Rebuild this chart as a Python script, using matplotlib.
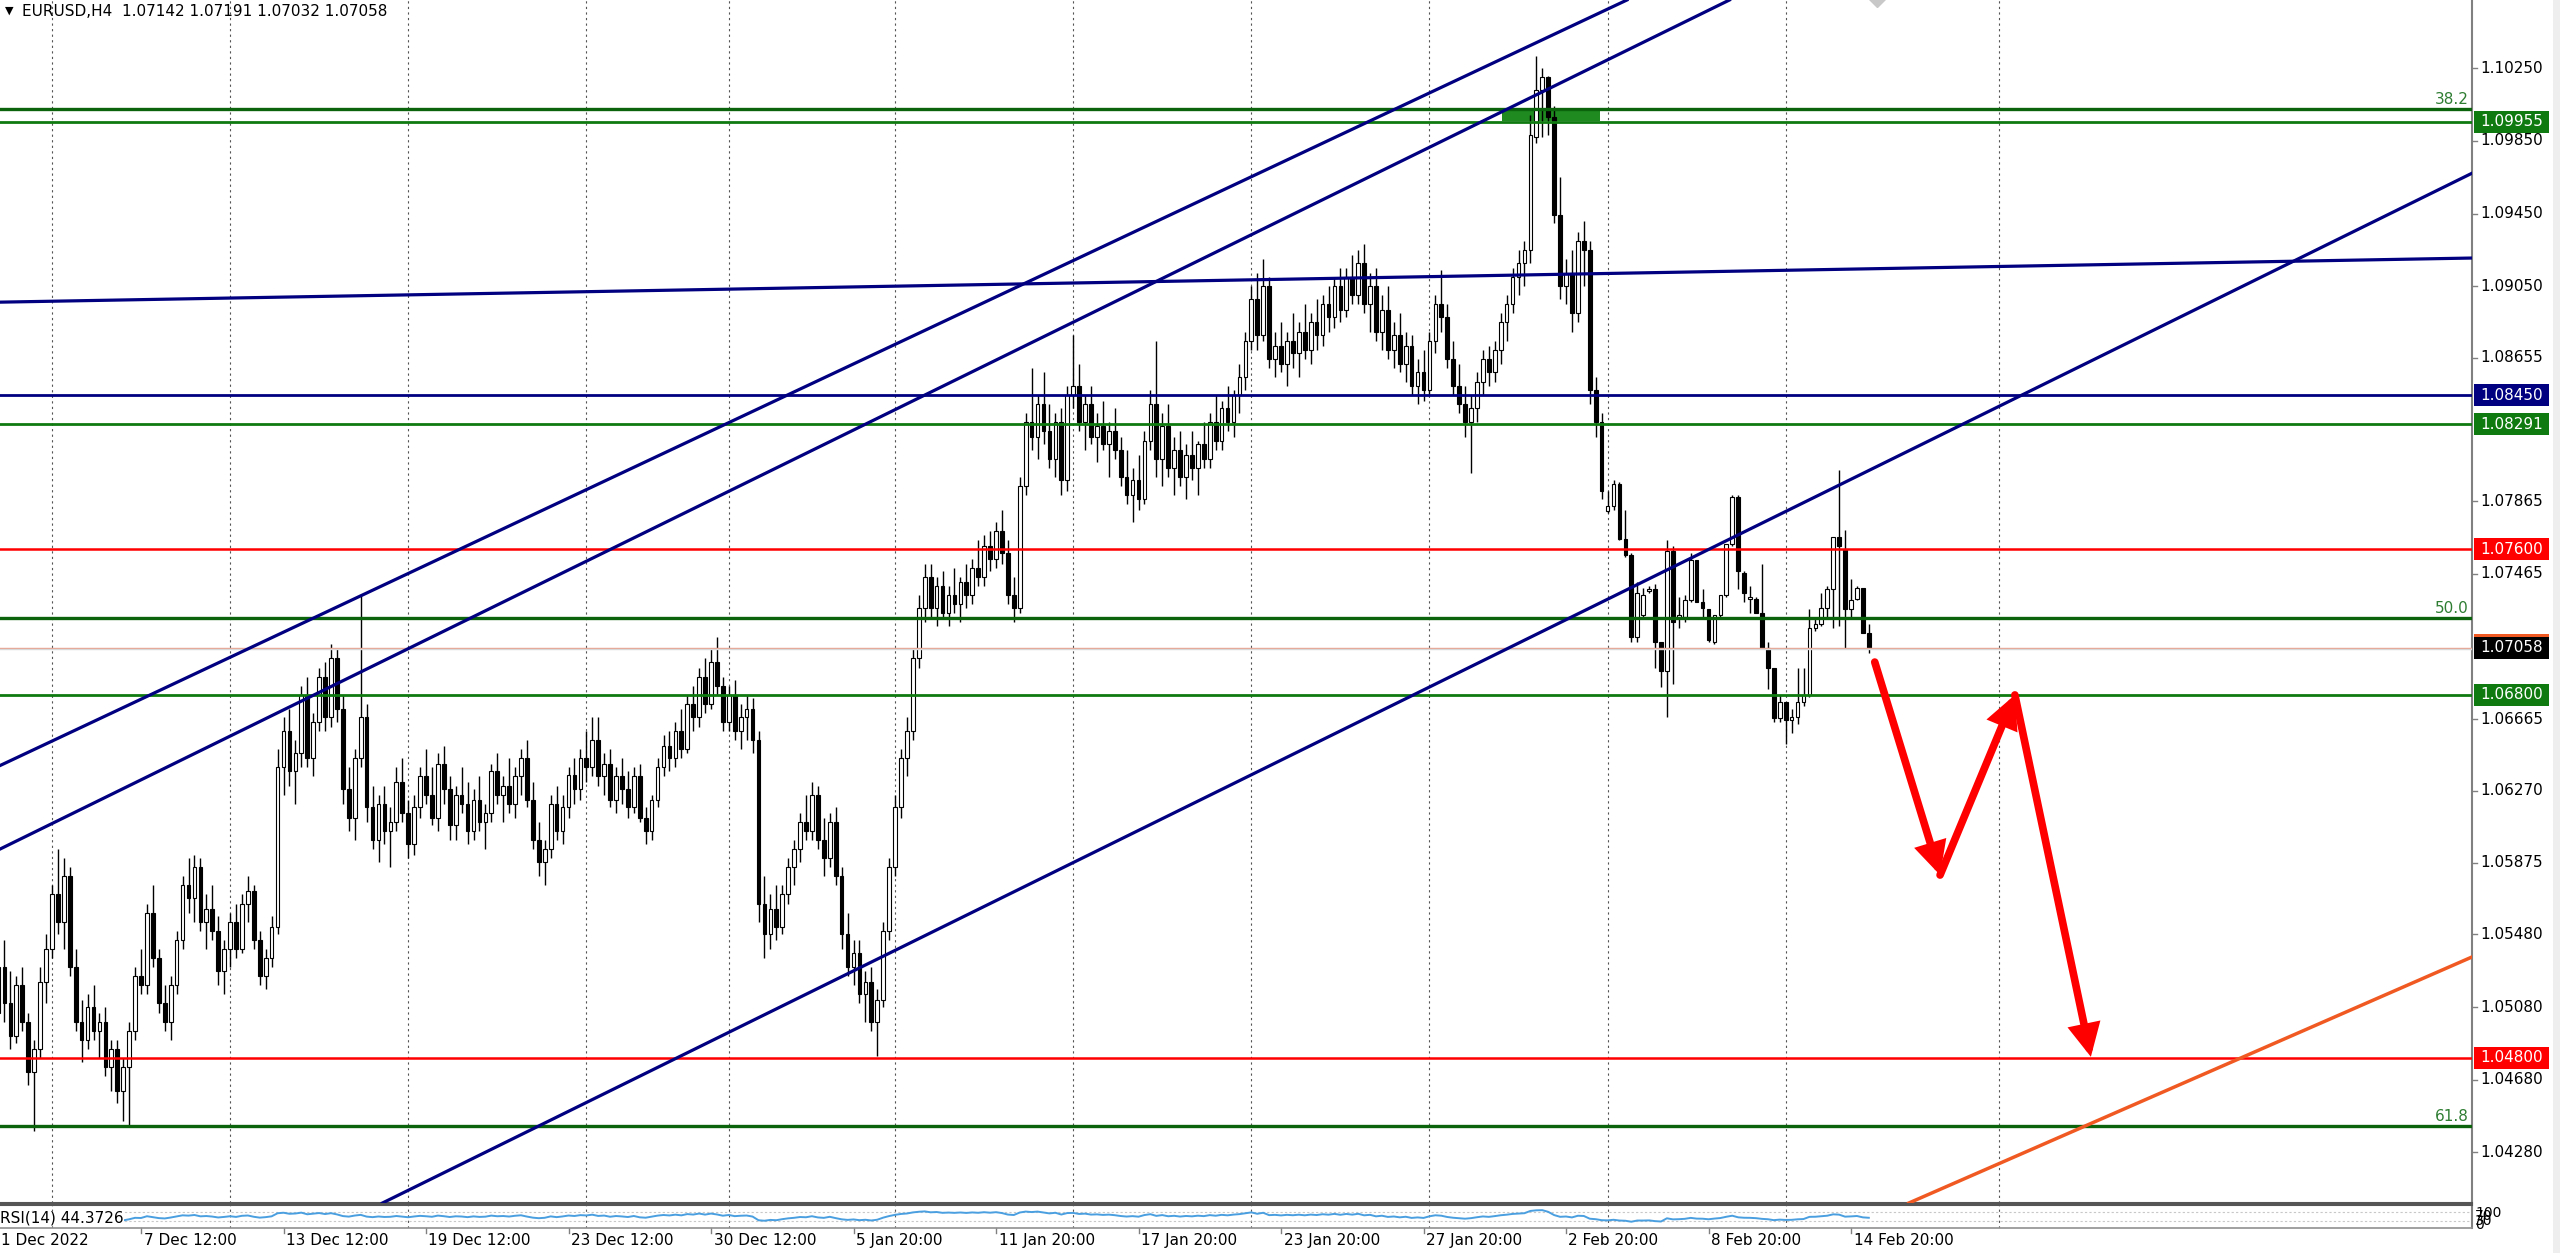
import numpy as np
import pandas as pd
import matplotlib
matplotlib.use("Agg")
import matplotlib.pyplot as plt
from matplotlib.patches import Rectangle, FancyArrowPatch
from matplotlib.transforms import blended_transform_factory as blend

# EURUSD H4 candles (bar 0 = 1 Dec 2022 12:00)
opens = [
    1.0505, 1.0530, 1.0510, 1.0492, 1.0520, 1.0500, 1.0472, 1.0485, 1.0522, 1.0540,
    1.0570, 1.0555, 1.0580, 1.0530, 1.0500, 1.0490, 1.0508, 1.0495, 1.0500, 1.0475,
    1.0485, 1.0462, 1.0475, 1.0495, 1.0525, 1.0520, 1.0560, 1.0535, 1.0510, 1.0500,
    1.0520, 1.0545, 1.0575, 1.0568, 1.0585, 1.0555, 1.0562, 1.0550, 1.0528, 1.0540,
    1.0555, 1.0540, 1.0565, 1.0572, 1.0545, 1.0525, 1.0535, 1.0552, 1.0640, 1.0660,
    1.0638, 1.0648, 1.0680, 1.0645, 1.0665, 1.0690, 1.0668, 1.0700, 1.0672, 1.0628,
    1.0612, 1.0645, 1.0668, 1.0618, 1.0600, 1.0620, 1.0605, 1.0610, 1.0632, 1.0615,
    1.0598, 1.0618, 1.0635, 1.0625, 1.0612, 1.0642, 1.0628, 1.0608, 1.0625, 1.0620,
    1.0605, 1.0622, 1.0610, 1.0615, 1.0638, 1.0625, 1.0630, 1.0620, 1.0635, 1.0645,
    1.0622, 1.0600, 1.0588, 1.0595, 1.0620, 1.0605, 1.0618, 1.0636, 1.0628, 1.0645,
    1.0640, 1.0655, 1.0635, 1.0642, 1.0622, 1.0635, 1.0628, 1.0618, 1.0635, 1.0612,
    1.0605, 1.0622, 1.0640, 1.0652, 1.0645, 1.0660, 1.0650, 1.0675, 1.0668, 1.0690,
    1.0675, 1.0698, 1.0685, 1.0665, 1.0680, 1.0660, 1.0668, 1.0672, 1.0655, 1.0565,
    1.0548, 1.0562, 1.0552, 1.0570, 1.0585, 1.0595, 1.0610, 1.0605, 1.0625, 1.0600,
    1.0590, 1.0610, 1.0580, 1.0548, 1.0530, 1.0538, 1.0515, 1.0522, 1.0500, 1.0512,
    1.0550, 1.0585, 1.0618, 1.0645, 1.0660, 1.0700, 1.0728, 1.0745, 1.0728, 1.0740,
    1.0725, 1.0735, 1.0730, 1.0742, 1.0735, 1.0750, 1.0745, 1.0762, 1.0755, 1.0770,
    1.0758, 1.0735, 1.0728, 1.0795, 1.0830, 1.0822, 1.0840, 1.0825, 1.0810, 1.0830,
    1.0798, 1.0845, 1.0850, 1.0830, 1.0840, 1.0822, 1.0828, 1.0818, 1.0825, 1.0815,
    1.0800, 1.0790, 1.0798, 1.0788, 1.0820, 1.0840, 1.0810, 1.0828, 1.0805, 1.0815,
    1.0800, 1.0812, 1.0805, 1.0818, 1.0810, 1.0830, 1.0820, 1.0838, 1.0830, 1.0845,
    1.0855, 1.0875, 1.0898, 1.0878, 1.0905, 1.0865, 1.0872, 1.0862, 1.0875, 1.0868,
    1.0880, 1.0870, 1.0885, 1.0878, 1.0895, 1.0888, 1.0905, 1.0892, 1.0910, 1.0900,
    1.0918, 1.0895, 1.0905, 1.0880, 1.0892, 1.0870, 1.0878, 1.0862, 1.0872, 1.0850,
    1.0858, 1.0848, 1.0875, 1.0895, 1.0888, 1.0865, 1.0850, 1.0840, 1.0830, 1.0838,
    1.0852, 1.0865, 1.0858, 1.0870, 1.0885, 1.0895, 1.0910, 1.0918, 1.0925, 1.0987,
    1.1013, 1.1020, 1.0998, 1.0944, 1.0905, 1.0912, 1.0890, 1.0930, 1.0925, 1.0848,
    1.0830, 1.0781, 1.0784, 1.0796, 1.0766, 1.0757, 1.0712, 1.0724, 1.0737, 1.0738,
    1.0709, 1.0693, 1.0759, 1.0722, 1.0723, 1.0732, 1.0754, 1.0731, 1.0727, 1.0709,
    1.0724, 1.0735, 1.0763, 1.0789, 1.0747, 1.0733, 1.0733, 1.0725, 1.0706, 1.0695,
    1.0667, 1.0676, 1.0666, 1.0668, 1.0676, 1.0680, 1.0717, 1.0719, 1.0728, 1.0738,
    1.0767, 1.0760, 1.0727, 1.0733, 1.0739, 1.07142,
]
highs = [
    1.0540, 1.0545, 1.0528, 1.0525, 1.0530, 1.0505, 1.0490, 1.0530, 1.0548, 1.0575,
    1.0595, 1.0590, 1.0585, 1.0540, 1.0512, 1.0515, 1.0520, 1.0505, 1.0508, 1.0490,
    1.0490, 1.0480, 1.0500, 1.0530, 1.0540, 1.0565, 1.0575, 1.0540, 1.0520, 1.0525,
    1.0550, 1.0580, 1.0590, 1.0592, 1.0590, 1.0570, 1.0575, 1.0558, 1.0545, 1.0560,
    1.0565, 1.0570, 1.0580, 1.0575, 1.0550, 1.0540, 1.0558, 1.0650, 1.0668, 1.0672,
    1.0655, 1.0685, 1.0690, 1.0670, 1.0695, 1.0698, 1.0708, 1.0705, 1.0680, 1.0640,
    1.0650, 1.0735, 1.0675, 1.0630, 1.0625, 1.0630, 1.0618, 1.0640, 1.0645, 1.0622,
    1.0625, 1.0640, 1.0650, 1.0640, 1.0648, 1.0652, 1.0635, 1.0630, 1.0640, 1.0632,
    1.0628, 1.0635, 1.0620, 1.0642, 1.0648, 1.0635, 1.0645, 1.0640, 1.0650, 1.0655,
    1.0632, 1.0610, 1.0600, 1.0625, 1.0630, 1.0625, 1.0640, 1.0645, 1.0650, 1.0660,
    1.0668, 1.0668, 1.0648, 1.0650, 1.0640, 1.0645, 1.0638, 1.0640, 1.0642, 1.0618,
    1.0625, 1.0645, 1.0658, 1.0660, 1.0665, 1.0672, 1.0680, 1.0685, 1.0695, 1.0700,
    1.0705, 1.0712, 1.0690, 1.0685, 1.0688, 1.0675, 1.0680, 1.0678, 1.0660, 1.0580,
    1.0570, 1.0575, 1.0575, 1.0590, 1.0600, 1.0615, 1.0625, 1.0632, 1.0630, 1.0612,
    1.0615, 1.0618, 1.0585, 1.0560, 1.0545, 1.0545, 1.0528, 1.0530, 1.0518, 1.0555,
    1.0590, 1.0625, 1.0650, 1.0668, 1.0705, 1.0735, 1.0752, 1.0752, 1.0745, 1.0748,
    1.0740, 1.0750, 1.0745, 1.0752, 1.0755, 1.0765, 1.0768, 1.0770, 1.0775, 1.0782,
    1.0765, 1.0745, 1.0800, 1.0835, 1.0860, 1.0845, 1.0858, 1.0840, 1.0835, 1.0838,
    1.0850, 1.0878, 1.0862, 1.0845, 1.0850, 1.0835, 1.0842, 1.0830, 1.0838, 1.0822,
    1.0815, 1.0805, 1.0812, 1.0825, 1.0848, 1.0875, 1.0835, 1.0840, 1.0822, 1.0825,
    1.0818, 1.0825, 1.0820, 1.0830, 1.0835, 1.0845, 1.0842, 1.0850, 1.0848, 1.0862,
    1.0880, 1.0905, 1.0912, 1.0920, 1.0910, 1.0880, 1.0885, 1.0880, 1.0890, 1.0885,
    1.0895, 1.0890, 1.0898, 1.0900, 1.0905, 1.0910, 1.0915, 1.0915, 1.0922, 1.0925,
    1.0928, 1.0912, 1.0915, 1.0900, 1.0905, 1.0885, 1.0890, 1.0880, 1.0878, 1.0865,
    1.0870, 1.0880, 1.0900, 1.0914, 1.0895, 1.0875, 1.0862, 1.0850, 1.0845, 1.0858,
    1.0870, 1.0872, 1.0875, 1.0890, 1.0900, 1.0915, 1.0925, 1.0930, 1.0999, 1.1032,
    1.1025, 1.1021, 1.1004, 1.0965, 1.0920, 1.0925, 1.0935, 1.0941, 1.0930, 1.0855,
    1.0835, 1.0792, 1.0798, 1.0797, 1.0782, 1.0758, 1.0742, 1.0739, 1.0740, 1.0741,
    1.0709, 1.0765, 1.0762, 1.0734, 1.0735, 1.0758, 1.0754, 1.0738, 1.0727, 1.0724,
    1.0735, 1.0763, 1.0790, 1.0790, 1.0748, 1.0740, 1.0734, 1.0752, 1.0709, 1.0695,
    1.0680, 1.0676, 1.0672, 1.0695, 1.0695, 1.0727, 1.0723, 1.0736, 1.0740, 1.0767,
    1.0804, 1.0771, 1.0744, 1.0740, 1.0739, 1.07191,
]
lows = [
    1.0490, 1.0500, 1.0485, 1.0488, 1.0495, 1.0465, 1.0440, 1.0480, 1.0510, 1.0535,
    1.0548, 1.0540, 1.0525, 1.0495, 1.0478, 1.0485, 1.0490, 1.0480, 1.0470, 1.0462,
    1.0455, 1.0445, 1.0442, 1.0490, 1.0515, 1.0515, 1.0530, 1.0505, 1.0495, 1.0490,
    1.0515, 1.0540, 1.0560, 1.0555, 1.0550, 1.0540, 1.0545, 1.0520, 1.0515, 1.0530,
    1.0535, 1.0538, 1.0555, 1.0540, 1.0520, 1.0518, 1.0530, 1.0548, 1.0625, 1.0630,
    1.0620, 1.0640, 1.0640, 1.0635, 1.0660, 1.0660, 1.0662, 1.0665, 1.0620, 1.0605,
    1.0600, 1.0640, 1.0610, 1.0595, 1.0588, 1.0598, 1.0585, 1.0605, 1.0610, 1.0590,
    1.0592, 1.0612, 1.0620, 1.0608, 1.0605, 1.0620, 1.0600, 1.0600, 1.0615, 1.0598,
    1.0600, 1.0605, 1.0595, 1.0610, 1.0620, 1.0610, 1.0615, 1.0612, 1.0625, 1.0618,
    1.0595, 1.0580, 1.0575, 1.0590, 1.0600, 1.0598, 1.0612, 1.0620, 1.0622, 1.0632,
    1.0635, 1.0630, 1.0625, 1.0618, 1.0615, 1.0620, 1.0612, 1.0615, 1.0610, 1.0598,
    1.0600, 1.0618, 1.0635, 1.0638, 1.0640, 1.0645, 1.0648, 1.0660, 1.0662, 1.0670,
    1.0672, 1.0680, 1.0660, 1.0660, 1.0655, 1.0650, 1.0655, 1.0648, 1.0555, 1.0535,
    1.0540, 1.0545, 1.0548, 1.0565, 1.0575, 1.0588, 1.0600, 1.0600, 1.0595, 1.0580,
    1.0585, 1.0575, 1.0540, 1.0525, 1.0520, 1.0510, 1.0500, 1.0495, 1.0481, 1.0508,
    1.0545, 1.0580, 1.0612, 1.0635, 1.0655, 1.0695, 1.0720, 1.0722, 1.0718, 1.0722,
    1.0718, 1.0725, 1.0720, 1.0728, 1.0730, 1.0740, 1.0740, 1.0748, 1.0750, 1.0752,
    1.0730, 1.0720, 1.0725, 1.0790, 1.0815, 1.0810, 1.0818, 1.0805, 1.0800, 1.0790,
    1.0792, 1.0838, 1.0825, 1.0815, 1.0818, 1.0808, 1.0815, 1.0800, 1.0810, 1.0795,
    1.0785, 1.0775, 1.0782, 1.0785, 1.0815, 1.0800, 1.0795, 1.0800, 1.0790, 1.0795,
    1.0788, 1.0798, 1.0790, 1.0805, 1.0805, 1.0815, 1.0815, 1.0825, 1.0822, 1.0835,
    1.0848, 1.0870, 1.0870, 1.0875, 1.0860, 1.0855, 1.0858, 1.0850, 1.0860, 1.0855,
    1.0865, 1.0862, 1.0870, 1.0872, 1.0880, 1.0882, 1.0885, 1.0888, 1.0895, 1.0895,
    1.0890, 1.0880, 1.0875, 1.0870, 1.0865, 1.0860, 1.0858, 1.0852, 1.0845, 1.0840,
    1.0842, 1.0845, 1.0868, 1.0880, 1.0860, 1.0845, 1.0835, 1.0822, 1.0802, 1.0830,
    1.0845, 1.0850, 1.0852, 1.0862, 1.0875, 1.0890, 1.0900, 1.0905, 1.0918, 1.0984,
    1.0987, 1.0988, 1.0940, 1.0898, 1.0895, 1.0880, 1.0885, 1.0905, 1.0840, 1.0822,
    1.0788, 1.0780, 1.0782, 1.0765, 1.0756, 1.0709, 1.0709, 1.0722, 1.0736, 1.0695,
    1.0684, 1.0668, 1.0686, 1.0717, 1.0720, 1.0731, 1.0731, 1.0723, 1.0709, 1.0708,
    1.0723, 1.0734, 1.0762, 1.0738, 1.0731, 1.0725, 1.0725, 1.0706, 1.0683, 1.0665,
    1.0665, 1.0653, 1.0659, 1.0664, 1.0674, 1.0679, 1.0715, 1.0718, 1.0723, 1.0717,
    1.0718, 1.0706, 1.0722, 1.0732, 1.0714, 1.07032,
]
closes = [
    1.0530, 1.0510, 1.0492, 1.0520, 1.0500, 1.0472, 1.0485, 1.0522, 1.0540, 1.0570,
    1.0555, 1.0580, 1.0530, 1.0500, 1.0490, 1.0508, 1.0495, 1.0500, 1.0475, 1.0485,
    1.0462, 1.0475, 1.0495, 1.0525, 1.0520, 1.0560, 1.0535, 1.0510, 1.0500, 1.0520,
    1.0545, 1.0575, 1.0568, 1.0585, 1.0555, 1.0562, 1.0550, 1.0528, 1.0540, 1.0555,
    1.0540, 1.0565, 1.0572, 1.0545, 1.0525, 1.0535, 1.0552, 1.0640, 1.0660, 1.0638,
    1.0648, 1.0680, 1.0645, 1.0665, 1.0690, 1.0668, 1.0700, 1.0672, 1.0628, 1.0612,
    1.0645, 1.0668, 1.0618, 1.0600, 1.0620, 1.0605, 1.0610, 1.0632, 1.0615, 1.0598,
    1.0618, 1.0635, 1.0625, 1.0612, 1.0642, 1.0628, 1.0608, 1.0625, 1.0620, 1.0605,
    1.0622, 1.0610, 1.0615, 1.0638, 1.0625, 1.0630, 1.0620, 1.0635, 1.0645, 1.0622,
    1.0600, 1.0588, 1.0595, 1.0620, 1.0605, 1.0618, 1.0636, 1.0628, 1.0645, 1.0640,
    1.0655, 1.0635, 1.0642, 1.0622, 1.0635, 1.0628, 1.0618, 1.0635, 1.0612, 1.0605,
    1.0622, 1.0640, 1.0652, 1.0645, 1.0660, 1.0650, 1.0675, 1.0668, 1.0690, 1.0675,
    1.0698, 1.0685, 1.0665, 1.0680, 1.0660, 1.0668, 1.0672, 1.0655, 1.0565, 1.0548,
    1.0562, 1.0552, 1.0570, 1.0585, 1.0595, 1.0610, 1.0605, 1.0625, 1.0600, 1.0590,
    1.0610, 1.0580, 1.0548, 1.0530, 1.0538, 1.0515, 1.0522, 1.0500, 1.0512, 1.0550,
    1.0585, 1.0618, 1.0645, 1.0660, 1.0700, 1.0728, 1.0745, 1.0728, 1.0740, 1.0725,
    1.0735, 1.0730, 1.0742, 1.0735, 1.0750, 1.0745, 1.0762, 1.0755, 1.0770, 1.0758,
    1.0735, 1.0728, 1.0795, 1.0830, 1.0822, 1.0840, 1.0825, 1.0810, 1.0830, 1.0798,
    1.0845, 1.0850, 1.0830, 1.0840, 1.0822, 1.0828, 1.0818, 1.0825, 1.0815, 1.0800,
    1.0790, 1.0798, 1.0788, 1.0820, 1.0840, 1.0810, 1.0828, 1.0805, 1.0815, 1.0800,
    1.0812, 1.0805, 1.0818, 1.0810, 1.0830, 1.0820, 1.0838, 1.0830, 1.0845, 1.0855,
    1.0875, 1.0898, 1.0878, 1.0905, 1.0865, 1.0872, 1.0862, 1.0875, 1.0868, 1.0880,
    1.0870, 1.0885, 1.0878, 1.0895, 1.0888, 1.0905, 1.0892, 1.0910, 1.0900, 1.0918,
    1.0895, 1.0905, 1.0880, 1.0892, 1.0870, 1.0878, 1.0862, 1.0872, 1.0850, 1.0858,
    1.0848, 1.0875, 1.0895, 1.0888, 1.0865, 1.0850, 1.0840, 1.0830, 1.0838, 1.0852,
    1.0865, 1.0858, 1.0870, 1.0885, 1.0895, 1.0910, 1.0918, 1.0925, 1.0988, 1.1013,
    1.1020, 1.0998, 1.0944, 1.0905, 1.0912, 1.0890, 1.0930, 1.0925, 1.0848, 1.0830,
    1.0792, 1.0784, 1.0796, 1.0766, 1.0757, 1.0712, 1.0736, 1.0735, 1.0738, 1.0709,
    1.0693, 1.0759, 1.0720, 1.0724, 1.0732, 1.0754, 1.0731, 1.0728, 1.0710, 1.0724,
    1.0735, 1.0763, 1.0789, 1.0748, 1.0736, 1.0734, 1.0725, 1.0706, 1.0695, 1.0667,
    1.0676, 1.0666, 1.0668, 1.0676, 1.0680, 1.0717, 1.0719, 1.0728, 1.0738, 1.0767,
    1.0762, 1.0727, 1.0732, 1.0739, 1.0714, 1.07058,
]

date_labels = ["1 Dec 2022", "7 Dec 12:00", "13 Dec 12:00", "19 Dec 12:00",
               "23 Dec 12:00", "30 Dec 12:00", "5 Jan 20:00", "11 Jan 20:00",
               "17 Jan 20:00", "23 Jan 20:00", "27 Jan 20:00", "2 Feb 20:00",
               "8 Feb 20:00", "14 Feb 20:00"]
date_label_bars = [0, 24, 48, 72, 96, 120, 144, 168, 192, 216, 240, 264, 288, 312]
week_grid_bars = [9, 39, 69, 99, 123, 151, 181, 211, 241, 271, 301, 337]

# visible price scale labels (1.08260 and 1.07070 sit under the coloured boxes)
price_ticks = [1.10250, 1.09850, 1.09450, 1.09050, 1.08655, 1.07865,
               1.07465, 1.06665, 1.06270, 1.05875, 1.05480, 1.05080,
               1.04680, 1.04280]

# horizontal levels
green_levels = [1.09955, 1.08291, 1.06800]
navy_levels = [1.08450]
red_levels = [1.07600, 1.04800]
fib_levels = [1.10024, 1.07224, 1.04425]
fib_names = ["38.2", "50.0", "61.8"]
bid = 1.07058

# trend lines as (bar, price) anchor pairs
navy_trends = [((0.25, 1.0641), (244.5, 1.10168)),
               ((0.25, 1.0595), (244.5, 1.09871)),
               ((269.7, 1.07305), (318.6, 1.08093)),
               ((0.25, 1.08962), (416.6, 1.09205))]
orange_trend = ((321.4, 1.03996), (416.6, 1.05356))
fib_box = (253.2, 269.7, 1.09958, 1.10024)
arrow_path = [(316.0, 1.06980), (327.0, 1.05807), (339.6, 1.06799), (352.4, 1.04806)]

W, H = 2560, 1253
BAR_PX = 5.9375
PLOT_W = 2472
X0, X1 = 1.5 / BAR_PX, (PLOT_W + 1.5) / BAR_PX
P_TOP, P_BOT = 1.10626, 1.04001
PX_PER_PRICE = 1203 / (P_TOP - P_BOT)

GREEN = "#0f7a0f"
FIB = "#0b640b"
NAVY = "#000080"
RED = "#ff0000"

fig = plt.figure(figsize=(W / 100, H / 100), dpi=100)
ax = fig.add_axes([0, 1 - 1203 / H, PLOT_W / W, 1203 / H])
rsi_ax = fig.add_axes([0, 1 - 1228 / H, PLOT_W / W, 23 / H])

ax.set_xlim(X0, X1)
ax.set_ylim(P_BOT, P_TOP)
rsi_ax.set_xlim(X0, X1)
rsi_ax.set_ylim(0, 100)
for a in (ax, rsi_ax):
    a.set_xticks([])
    a.set_yticks([])
    a.spines["left"].set_visible(False)
    a.spines["right"].set_color("#808080")
    a.spines["right"].set_linewidth(1.5)
ax.spines["top"].set_visible(False)
ax.spines["bottom"].set_color("#555555")
ax.spines["bottom"].set_linewidth(1.5)
rsi_ax.spines["top"].set_color("#555555")
rsi_ax.spines["top"].set_linewidth(1.5)
rsi_ax.spines["bottom"].set_color("#909090")
rsi_ax.spines["bottom"].set_linewidth(1.2)

# weekly grid
for g in week_grid_bars:
    ax.axvline(g, color="#555555", lw=0.8, ls=(0, (2, 3)), zorder=0.5)
    rsi_ax.axvline(g, color="#555555", lw=0.8, ls=(0, (2, 3)), zorder=0.5)

# fib rectangle sits behind the candles
bx0, bx1, by0, by1 = fib_box
ax.add_patch(Rectangle((bx0, by0), bx1 - bx0, by1 - by0, facecolor="#1f8a1f",
                       edgecolor="none", zorder=1))

# candles
o = np.array(opens)
h = np.array(highs)
l = np.array(lows)
c = np.array(closes)
idx = np.arange(len(c))
up = c >= o
ax.vlines(idx, l, h, color="black", lw=1.0, zorder=2)
body_lo = np.minimum(o, c)
body_h = np.maximum(np.abs(c - o), 0.00004)
ax.bar(idx[up], body_h[up], bottom=body_lo[up], width=0.62, color="white",
       edgecolor="black", lw=0.8, zorder=3)
ax.bar(idx[~up], body_h[~up], bottom=body_lo[~up], width=0.62, color="black",
       edgecolor="black", lw=0.8, zorder=3)

# horizontal levels
for p in green_levels:
    ax.axhline(p, color=GREEN, lw=2.0, zorder=4)
for p in navy_levels:
    ax.axhline(p, color=NAVY, lw=2.0, zorder=4)
for p in red_levels:
    ax.axhline(p, color=RED, lw=1.8, zorder=4)
for p in fib_levels:
    ax.axhline(p, color=FIB, lw=2.4, zorder=4)
ax.axhline(bid, color="#e9a08a", lw=1.0, zorder=4)
ax.axhline(bid - 0.00008, color="#d8d8d8", lw=1.0, zorder=4)

# trend lines
for p1, p2 in navy_trends:
    ax.axline(p1, p2, color=NAVY, lw=2.3, zorder=4)
ax.axline(orange_trend[0], orange_trend[1], color="#f05a22", lw=2.5, zorder=4)

# forecast arrows
for a, b in zip(arrow_path[:-1], arrow_path[1:]):
    ax.add_patch(FancyArrowPatch(a, b, arrowstyle="-|>,head_length=0.9,head_width=0.45",
                                 mutation_scale=17, lw=5.5, color=RED,
                                 shrinkA=0, shrinkB=0, zorder=6, joinstyle="miter"))

# grey marker at the top edge
ax.plot([316.4], [P_TOP + 0.00005], marker="D", ms=8, color="#c8c8c8", zorder=5)

tr = blend(ax.transAxes, ax.transData)
dp = 1 / PX_PER_PRICE

# fib labels
for p, name in zip(fib_levels, fib_names):
    ax.text(1 - 3 / PLOT_W, p + 2 * dp, name, transform=tr, ha="right", va="bottom",
            fontsize=11, color="#2e7d32", zorder=7)

# price axis ticks
for p in price_ticks:
    ax.plot([1.0, 1 + 5 / PLOT_W], [p, p], transform=tr, color="#808080", lw=1,
            clip_on=False)
    ax.text(1 + 8 / PLOT_W, p, f"{p:.5f}", transform=tr, ha="left", va="center",
            fontsize=11, color="black", clip_on=False, zorder=8)

# coloured price boxes
boxes = ([(p, GREEN) for p in green_levels] + [(p, NAVY) for p in navy_levels]
         + [(p, RED) for p in red_levels])
ax.add_patch(Rectangle((1 + 2 / PLOT_W, bid - 8 * dp), 75 / PLOT_W, 22 * dp,
                       transform=tr, facecolor="#f05a22", edgecolor="none",
                       clip_on=False, zorder=9))
boxes.append((bid, "black"))
for p, col in boxes:
    ax.add_patch(Rectangle((1 + 2 / PLOT_W, p - 11 * dp), 75 / PLOT_W, 22 * dp,
                           transform=tr, facecolor=col, edgecolor="none",
                           clip_on=False, zorder=10))
    ax.text(1 + 8 / PLOT_W, p, f"{p:.5f}", transform=tr, ha="left", va="center",
            fontsize=11, color="white", clip_on=False, zorder=11)

# RSI(14)
delta = pd.Series(closes).diff()
gain = delta.clip(lower=0).ewm(alpha=1 / 14, adjust=False).mean()
loss = (-delta.clip(upper=0)).ewm(alpha=1 / 14, adjust=False).mean()
rsi = 100 - 100 / (1 + gain / loss)
rsi_ax.axhline(70, color="#c8c8c8", lw=0.8, ls=(0, (2, 2)))
rsi_ax.axhline(30, color="#c8c8c8", lw=0.8, ls=(0, (2, 2)))
rsi_ax.plot(idx[14:], rsi.values[14:], color="#4a9fe0", lw=1.4, zorder=3)
rsi_ax.text(0, 0.42, "RSI(14) 44.3726", transform=rsi_ax.transAxes, ha="left",
            va="center", fontsize=11, color="black", zorder=5,
            bbox=dict(facecolor="white", edgecolor="none", pad=0))
trr = rsi_ax.transAxes
for v, s in [(100, "100"), (70, "70"), (30, "30"), (0, "0")]:
    rsi_ax.text(1 + 3 / PLOT_W, 0.15 + v / 100 * 0.5, s, transform=trr, ha="left",
                va="center", fontsize=10, color="black", clip_on=False)

# time axis
trt = blend(rsi_ax.transData, rsi_ax.transAxes)
for b, s in zip(date_label_bars, date_labels):
    rsi_ax.plot([b, b], [0, -0.22], transform=trt, color="#808080", lw=1, clip_on=False)
    rsi_ax.text(b + 2.5 / BAR_PX, -0.55, s, transform=trt, ha="left", va="center",
                fontsize=11, color="black", clip_on=False)

# header
fig.text(5 / W, 1 - 11 / H, "\u25bc", fontsize=8, va="center", ha="left")
fig.text(22 / W, 1 - 11 / H, "EURUSD,H4  1.07142 1.07191 1.07032 1.07058",
         fontsize=11, va="center", ha="left")

fig.patches.append(Rectangle((2553 / W, 0), 7 / W, 1, transform=fig.transFigure,
                             facecolor="#eeeeee", edgecolor="none"))

fig.savefig("out.png", dpi=100, facecolor="white")
